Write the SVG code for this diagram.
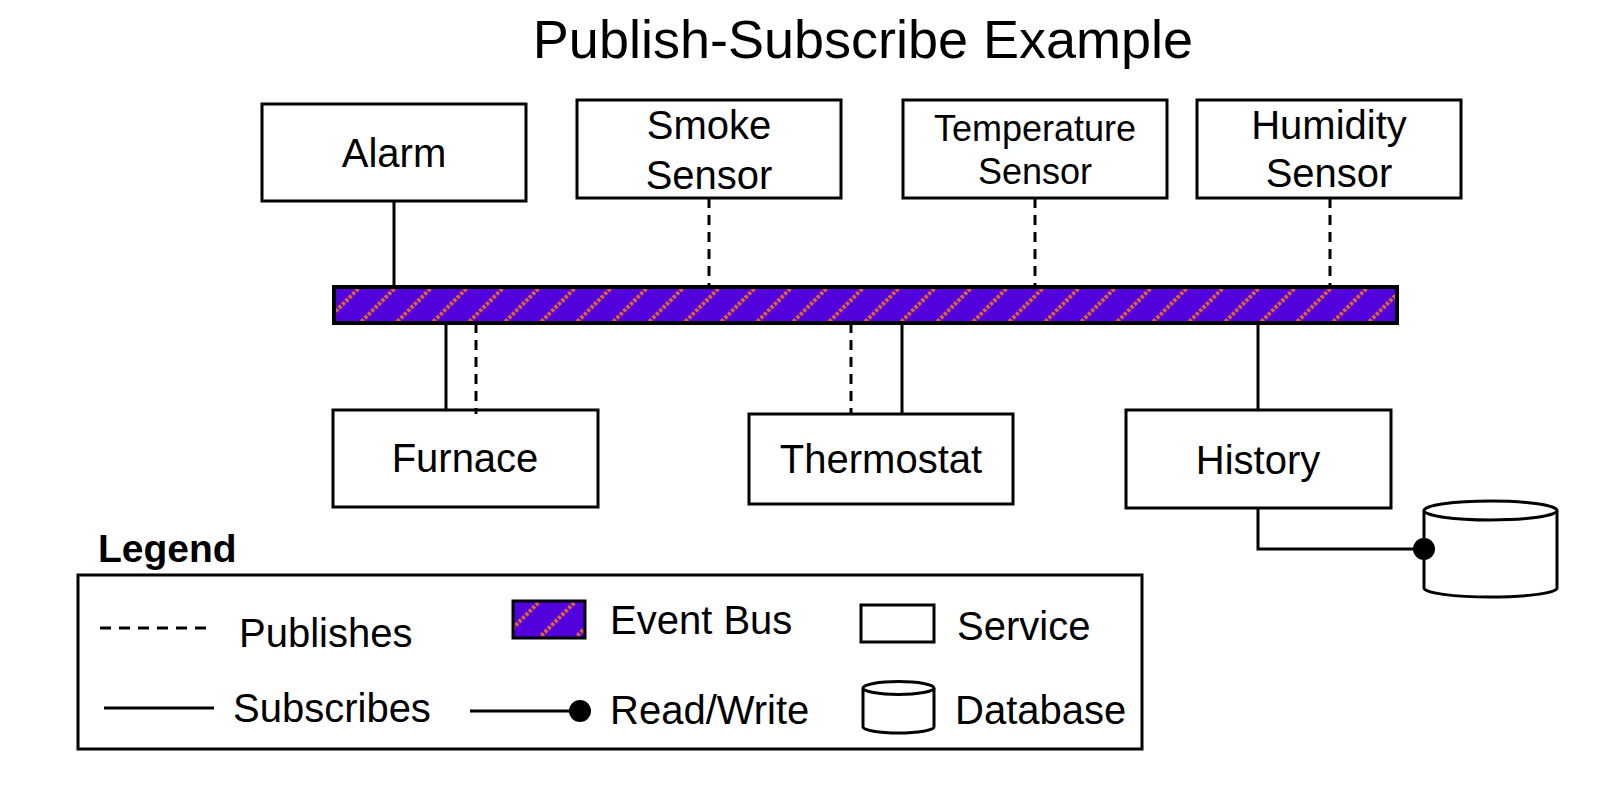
<svg xmlns="http://www.w3.org/2000/svg" width="1618" height="800" viewBox="0 0 1618 800">
  <defs>
    <pattern id="busPat" patternUnits="userSpaceOnUse" width="36" height="36" x="0" y="287">
      <rect width="36" height="36" fill="#5200dc"/>
      <line x1="-2" y1="38" x2="38" y2="-2" stroke="#dc6438" stroke-width="4" stroke-dasharray="3.2 1.6"/>
    </pattern>
    <pattern id="busPat2" patternUnits="userSpaceOnUse" width="36" height="36" x="0" y="601">
      <rect width="36" height="36" fill="#5200dc"/>
      <line x1="-2" y1="38" x2="38" y2="-2" stroke="#dc6438" stroke-width="4" stroke-dasharray="3.2 1.6"/>
    </pattern>
  </defs>
  <style>
    .box { fill: #ffffff; stroke: #000000; stroke-width: 3; }
    .lbl { font-family: "Liberation Sans", Arial, sans-serif; font-size: 40px; fill: #000000; }
    .sm { font-size: 36px; }
    .title { font-family: "Liberation Sans", Arial, sans-serif; font-size: 54px; fill: #000000; }
    .bold { font-family: "Liberation Sans", Arial, sans-serif; font-size: 39px; font-weight: bold; fill: #000000; }
    .sub { fill: none; stroke: #000000; stroke-width: 3; }
    .pub { fill: none; stroke: #000000; stroke-width: 3; stroke-dasharray: 10 7; }
    .dot { fill: #000000; }
  </style>

  <text class="title" x="863" y="58" text-anchor="middle">Publish-Subscribe Example</text>

  <g id="bus">
    <rect x="334" y="287" width="1063" height="36" fill="url(#busPat)" stroke="#000000" stroke-width="4"/>
  </g>

  <g id="alarm">
    <rect class="box" x="262" y="104" width="264" height="97"/>
    <text class="lbl" x="394" y="167" text-anchor="middle">Alarm</text>
  </g>
  <g id="smoke-sensor">
    <rect class="box" x="577" y="100" width="264" height="98"/>
    <text class="lbl" x="709" y="139" text-anchor="middle">Smoke</text>
    <text class="lbl" x="709" y="189" text-anchor="middle">Sensor</text>
  </g>
  <g id="temperature-sensor">
    <rect class="box" x="903" y="100" width="264" height="98"/>
    <text class="lbl sm" x="1035" y="141" text-anchor="middle">Temperature</text>
    <text class="lbl sm" x="1035" y="184" text-anchor="middle">Sensor</text>
  </g>
  <g id="humidity-sensor">
    <rect class="box" x="1197" y="100" width="264" height="98"/>
    <text class="lbl" x="1329" y="139" text-anchor="middle">Humidity</text>
    <text class="lbl" x="1329" y="187" text-anchor="middle">Sensor</text>
  </g>
  <g id="furnace">
    <rect class="box" x="333" y="410" width="265" height="97"/>
    <text class="lbl" x="465" y="472" text-anchor="middle">Furnace</text>
  </g>
  <g id="thermostat">
    <rect class="box" x="749" y="414" width="264" height="90"/>
    <text class="lbl" x="881" y="473" text-anchor="middle">Thermostat</text>
  </g>
  <g id="history">
    <rect class="box" x="1126" y="410" width="265" height="98"/>
    <text class="lbl" x="1258" y="474" text-anchor="middle">History</text>
  </g>
  <g id="database">
    <path class="box" d="M1424,510.5 L1424,588 A66.5,9 0 0 0 1557,588 L1557,510.5"/>
    <ellipse class="box" cx="1490.5" cy="510.5" rx="66.5" ry="9.5"/>
  </g>

  <g id="connectors">
    <line class="sub" x1="394" y1="201" x2="394" y2="287"/>
    <line class="pub" x1="709" y1="198" x2="709" y2="287"/>
    <line class="pub" x1="1035" y1="198" x2="1035" y2="287"/>
    <line class="pub" x1="1330" y1="198" x2="1330" y2="287"/>
    <line class="sub" x1="446" y1="323" x2="446" y2="410"/>
    <line class="pub" x1="476" y1="323" x2="476" y2="414"/>
    <line class="pub" x1="851" y1="323" x2="851" y2="414"/>
    <line class="sub" x1="902" y1="323" x2="902" y2="414"/>
    <line class="sub" x1="1258" y1="323" x2="1258" y2="410"/>
    <polyline class="sub" points="1258,508 1258,549 1424,549"/>
    <circle class="dot" cx="1424" cy="549" r="11"/>
  </g>

  <g id="legend">
    <text class="bold" x="98" y="562">Legend</text>
    <rect class="box" x="78" y="575" width="1064" height="174"/>
    <line class="pub" x1="100" y1="628" x2="212" y2="628" style="stroke-dasharray: 11 8"/>
    <text class="lbl" x="239" y="647">Publishes</text>
    <line class="sub" x1="104" y1="708" x2="214" y2="708"/>
    <text class="lbl" x="233" y="722">Subscribes</text>
    <rect x="513" y="601" width="72" height="37" fill="url(#busPat2)" stroke="#000000" stroke-width="3"/>
    <text class="lbl" x="610" y="634">Event Bus</text>
    <line class="sub" x1="470" y1="711" x2="580" y2="711"/>
    <circle class="dot" cx="580" cy="711" r="11"/>
    <text class="lbl" x="610" y="724">Read/Write</text>
    <rect class="box" x="861" y="605" width="73" height="37"/>
    <text class="lbl" x="957" y="640">Service</text>
    <path class="box" d="M863,688 L863,727 A35.5,6 0 0 0 934,727 L934,688"/>
    <ellipse class="box" cx="898.5" cy="688" rx="35.5" ry="6.5"/>
    <text class="lbl" x="955" y="724">Database</text>
  </g>
</svg>
